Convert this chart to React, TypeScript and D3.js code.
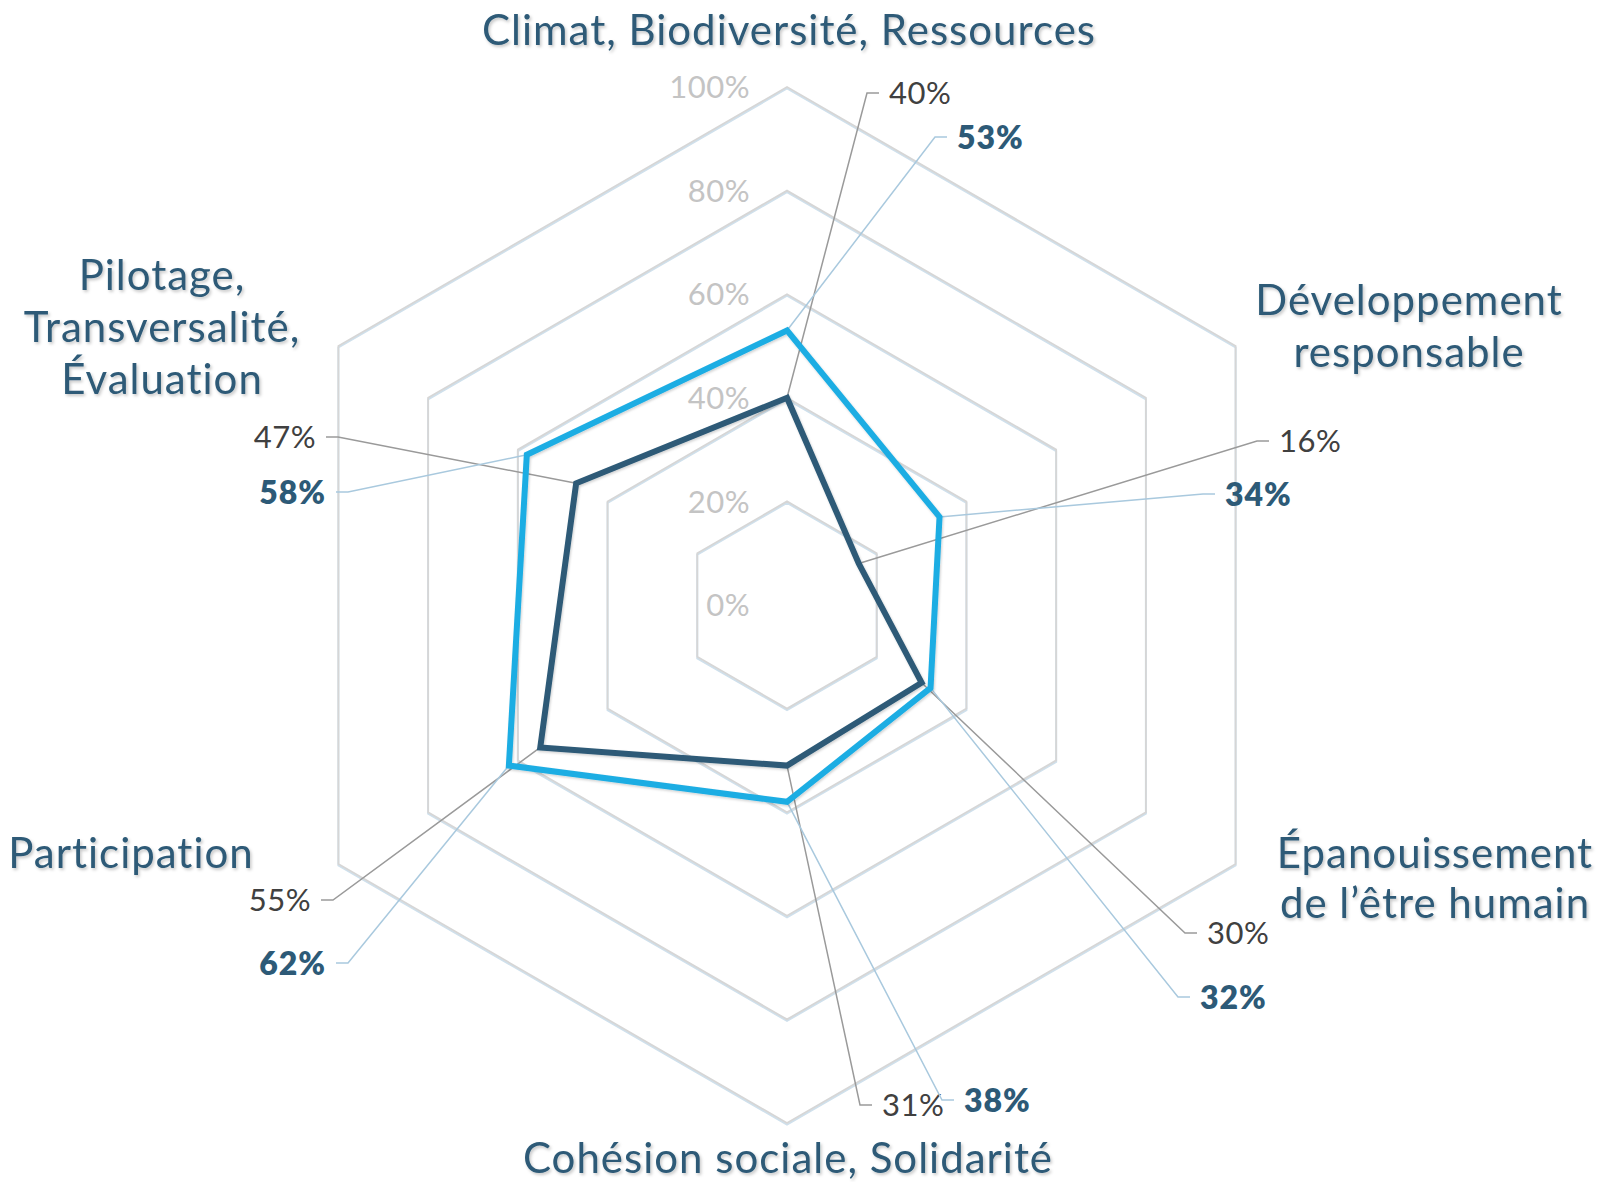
import React from "react";
import * as d3 from "d3";

// ---------- data ----------
const categories: string[][] = [
  ["Climat, Biodiversité, Ressources"],
  ["Développement", "responsable"],
  ["Épanouissement", "de l’être humain"],
  ["Cohésion sociale, Solidarité"],
  ["Participation"],
  ["Pilotage,", "Transversalité,", "Évaluation"],
];
const seriesDark: number[] = [40, 16, 30, 31, 55, 47];
const seriesLight: number[] = [53, 34, 32, 38, 62, 58];
const tickValues: number[] = [0, 20, 40, 60, 80, 100];

// ---------- layout ----------
const W = 1601;
const H = 1182;
const CX = 787;
const CY = 605;
const R = 518;

const catLayout = [
  { x: 789, y: 45, lh: 52 },
  { x: 1409, y: 315, lh: 52 },
  { x: 1435, y: 868, lh: 50 },
  { x: 788, y: 1173, lh: 52 },
  { x: 131, y: 868, lh: 52 },
  { x: 162, y: 290, lh: 52 },
];
const darkElbows = [
  { x: 867, y: 93, dir: 1 },
  { x: 1257, y: 441, dir: 1 },
  { x: 1185, y: 933, dir: 1 },
  { x: 860, y: 1105, dir: 1 },
  { x: 333, y: 900, dir: -1 },
  { x: 338, y: 437, dir: -1 },
];
const lightElbows = [
  { x: 935, y: 137, dir: 1 },
  { x: 1203, y: 494, dir: 1 },
  { x: 1178, y: 997, dir: 1 },
  { x: 942, y: 1100, dir: 1 },
  { x: 348, y: 963, dir: -1 },
  { x: 348, y: 492, dir: -1 },
];

const DARK = "#2d5a77";
const LIGHT = "#1eade3";
const FONT = "Lato, 'Open Sans', sans-serif";

export default function App() {
  const r = d3.scaleLinear().domain([0, 100]).range([0, R]);
  const n = categories.length;
  const angle = (i: number) => (i * 2 * Math.PI) / n;

  const radial = d3
    .lineRadial<number>()
    .angle((_, i) => angle(i))
    .radius((d) => r(d))
    .curve(d3.curveLinearClosed);

  const gridLevels = tickValues.filter((t) => t > 0);

  const pt = (v: number, i: number) => {
    const [x, y] = d3.pointRadial(angle(i), r(v));
    return [CX + x, CY + y];
  };

  const leaders = (
    vals: number[],
    elbows: { x: number; y: number; dir: number }[],
    lineColor: string,
    bold: boolean
  ) =>
    vals.map((v, i) => {
      const [px, py] = pt(v, i);
      const e = elbows[i];
      const hx = e.x + e.dir * 12;
      const tx = hx + e.dir * 10;
      return (
        <g key={i}>
          <path
            d={`M${px},${py}L${e.x},${e.y}L${hx},${e.y}`}
            fill="none"
            stroke={lineColor}
            strokeWidth={1.5}
          />
          <text
            x={tx}
            y={e.y}
            dy="0.36em"
            textAnchor={e.dir > 0 ? "start" : "end"}
            fontFamily={FONT}
            fontSize={bold ? 32 : 31}
            letterSpacing={bold ? 1 : 0.5}
            fontWeight={bold ? 800 : 400}
            fill={bold ? DARK : "#404040"}
          >
            {`${v}%`}
          </text>
        </g>
      );
    });

  return (
    <svg
      width={W}
      height={H}
      style={{ position: "absolute", left: 0, top: 0, background: "#fff" }}
    >
      <defs>
        <filter id="tshadow" x="-10%" y="-30%" width="120%" height="160%">
          <feDropShadow dx="1.5" dy="2" stdDeviation="1.5" floodColor="#000" floodOpacity="0.22" />
        </filter>
        <filter id="lshadow" x="-10%" y="-10%" width="120%" height="120%">
          <feDropShadow dx="1" dy="1.5" stdDeviation="1.2" floodColor="#000" floodOpacity="0.18" />
        </filter>
      </defs>

      {/* grid */}
      <g transform={`translate(${CX},${CY})`}>
        {gridLevels.map((t) => (
          <g key={t}>
            <path
              d={radial(Array(n).fill(t)) || ""}
              transform="translate(0,1.5)"
              fill="none"
              stroke="#cfe0ec"
              strokeWidth={2}
            />
            <path
              d={radial(Array(n).fill(t)) || ""}
              fill="none"
              stroke="#d6d6d6"
              strokeWidth={1.8}
            />
          </g>
        ))}
        {tickValues.map((t) => (
          <text
            key={t}
            x={-37}
            y={-r(t)}
            dy="0.36em"
            textAnchor="end"
            fontFamily={FONT}
            fontSize={31}
            letterSpacing={0.5}
            fill="#c4c4c4"
          >
            {`${t}%`}
          </text>
        ))}
      </g>

      {/* leader lines + value labels */}
      {leaders(seriesDark, darkElbows, "#9a9a9a", false)}
      {leaders(seriesLight, lightElbows, "#a9c9de", true)}

      {/* series */}
      <g transform={`translate(${CX},${CY})`} filter="url(#lshadow)">
        <path
          d={radial(seriesLight) || ""}
          fill="none"
          stroke={LIGHT}
          strokeWidth={6}
          strokeLinejoin="miter"
        />
        <path
          d={radial(seriesDark) || ""}
          fill="none"
          stroke={DARK}
          strokeWidth={6}
          strokeLinejoin="miter"
        />
      </g>

      {/* category labels */}
      {categories.map((lines, i) => (
        <text
          key={i}
          textAnchor="middle"
          fontFamily={FONT}
          fontSize={42}
          letterSpacing={1}
          fill={DARK}
          filter="url(#tshadow)"
        >
          {lines.map((l, j) => (
            <tspan key={j} x={catLayout[i].x} y={catLayout[i].y + j * catLayout[i].lh}>
              {l}
            </tspan>
          ))}
        </text>
      ))}
    </svg>
  );
}
